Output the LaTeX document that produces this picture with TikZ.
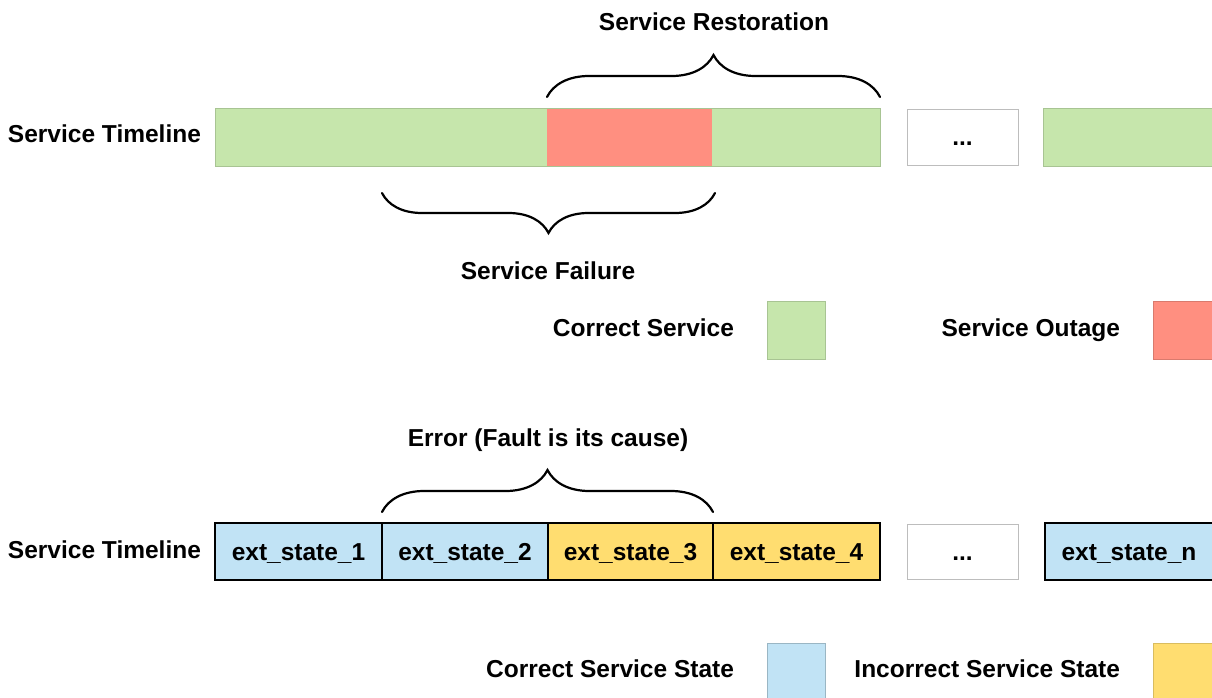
\documentclass[tikz,border=0pt]{standalone}
\usepackage{fontspec}
\setmainfont{Liberation Sans}
\usetikzlibrary{decorations.pathreplacing}
\definecolor{okgreen}{HTML}{C6E6AC}
\definecolor{okgreenline}{HTML}{A8C493}
\definecolor{outred}{HTML}{FF8F80}
\definecolor{stblue}{HTML}{C1E3F5}
\definecolor{styellow}{HTML}{FFDD70}
\definecolor{boxgray}{HTML}{BDBDBD}

\begin{document}
\begin{tikzpicture}[x=1pt,y=-1pt,
  font=\fontsize{24.5}{29}\selectfont\bfseries,
  every node/.style={inner sep=0pt, outer sep=0pt, text height=17.6pt, text depth=0pt},
  seg/.style={anchor=north west, minimum height=58pt},
  cell/.style={anchor=north west, minimum height=57pt, draw=black, line width=2pt},
  dotbox/.style={anchor=north west, draw=boxgray, line width=1pt},
  swatch/.style={anchor=north west, line width=0.8pt},
  curly/.style={decorate, line width=2.2pt, line cap=round,
    decoration={brace, amplitude=#1}},
  lbl/.style={anchor=center},
]
\clip (0,0) rectangle (1212,697);
\fill[white] (0,0) rectangle (1212,697);

% ---- service timeline (top) ----
\node[anchor=west] (tl1) at (8,134) {Service Timeline};
\node[seg, fill=okgreen, minimum width=332pt] (g1) at (215,108) {};
\node[seg, fill=outred,  minimum width=165pt] (r)  at (547,108) {};
\node[seg, fill=okgreen, minimum width=168pt] (g2) at (712,108) {};
\draw[okgreenline, line width=1pt] (g1.north west) rectangle (g2.south east);
\node[dotbox, minimum width=111pt, minimum height=56pt] (d1) at (907,109) {...};
\node[seg, fill=okgreen, draw=okgreenline, line width=1pt, minimum width=190pt] (g3) at (1043,108) {};

% restoration brace above, failure brace below
\coordinate (rs1) at ([yshift=11pt]r.north west);
\coordinate (rs2) at ([yshift=11pt]g2.north east);
\draw[curly=42pt] (rs1) -- (rs2);
\node[lbl] (rest) at (714,22) {Service Restoration};

\coordinate (fs1) at (382,193);
\coordinate (fs2) at (715,193);
\draw[curly=40pt] (fs2) -- (fs1);
\node[lbl] (fail) at (548,271) {Service Failure};

% legend (top)
\node[anchor=east] (lcs) at (734,328) {Correct Service};
\node[swatch, fill=okgreen, draw=okgreenline, minimum width=58pt, minimum height=58pt] (sq1) at (767,301) {};
\node[anchor=east] (lso) at (1120,328) {Service Outage};
\node[swatch, fill=outred, draw=outred!85!black, minimum width=70pt, minimum height=58pt] (sq2) at (1153,301) {};

% ---- service timeline (bottom) ----
\node[lbl] (err) at (548,438) {Error (Fault is its cause)};
\node[anchor=west] (tl2) at (8,550) {Service Timeline};
\node[cell, fill=stblue,   minimum width=167pt] (c1) at (215,523) {ext\_state\_1};
\node[cell, fill=stblue,   minimum width=166pt] (c2) at (382,523) {ext\_state\_2};
\node[cell, fill=styellow, minimum width=165pt] (c3) at (548,523) {ext\_state\_3};
\node[cell, fill=styellow, minimum width=167pt] (c4) at (713,523) {ext\_state\_4};
\node[dotbox, minimum width=111pt, minimum height=55pt] (d2) at (907,524) {...};
\node[cell, fill=stblue, line width=2.6pt, minimum width=168pt] (cn) at (1045,523) {ext\_state\_n};

\coordinate (es1) at ([yshift=11pt]c2.north west);
\coordinate (es2) at ([yshift=11pt]c3.north east);
\draw[curly=42pt] (es1) -- (es2);

% legend (bottom)
\node[anchor=east] (lcss) at (734,669) {Correct Service State};
\node[swatch, fill=stblue, draw=stblue!80!black, minimum width=58pt, minimum height=60pt] (sq3) at (767,643) {};
\node[anchor=east] (liss) at (1120,669) {Incorrect Service State};
\node[swatch, fill=styellow, draw=styellow!85!black, minimum width=70pt, minimum height=60pt] (sq4) at (1153,643) {};
\end{tikzpicture}
\end{document}
